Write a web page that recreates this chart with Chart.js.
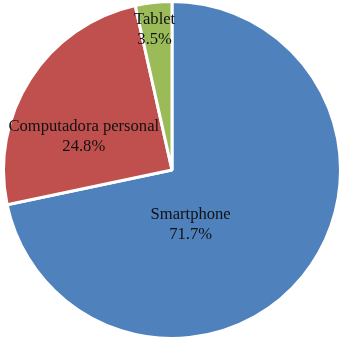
<!DOCTYPE html>
<html lang="es">
  <head>
    <meta charset="UTF-8" />
    <title>Dispositivos</title>
    <script src="https://cdn.jsdelivr.net/npm/chart.js"></script>
    <style>
      body {
        margin: 0;
        background: #fff;
      }
      #wrap {
        width: 343px;
        height: 340px;
      }
    </style>
  </head>
  <body>
    <div id="wrap"><canvas id="pieChart" width="343" height="340"></canvas></div>

    <script>
      const labels = ["Smartphone", "Computadora personal", "Tablet"];
      const values = [71.7, 24.8, 3.5];
      const colors = ["#4f81bd", "#c0504d", "#9bbb59"];

      // where each label sits: fraction along the slice angle, fraction of the radius
      const labelAlong = [0.624, 0.366, 0.44];
      const labelRadius = [0.34, 0.56, 0.84];

      const pieLabels = {
        id: "pieLabels",
        afterDatasetsDraw(chart) {
          const ctx = chart.ctx;
          const meta = chart.getDatasetMeta(0);
          ctx.save();
          ctx.font = '16.6px "Liberation Serif", "Times New Roman", serif';
          ctx.fillStyle = "#111";
          ctx.textAlign = "center";
          ctx.textBaseline = "middle";
          meta.data.forEach((arc, i) => {
            const a = arc.startAngle + (arc.endAngle - arc.startAngle) * labelAlong[i];
            const r = arc.outerRadius * labelRadius[i];
            const x = arc.x + Math.cos(a) * r;
            const y = arc.y + Math.sin(a) * r;
            ctx.fillText(labels[i], x, y - 10);
            ctx.fillText(values[i].toFixed(1) + "%", x, y + 10);
          });
          ctx.restore();
        },
      };

      new Chart(document.getElementById("pieChart"), {
        type: "pie",
        data: {
          labels: labels,
          datasets: [
            {
              data: values,
              backgroundColor: colors,
              borderColor: "#fff",
              borderWidth: 3,
            },
          ],
        },
        options: {
          responsive: false,
          animation: false,
          layout: { padding: { left: 2, right: 1, top: 0, bottom: 0 } },
          plugins: {
            legend: { display: false },
            tooltip: { enabled: false },
          },
        },
        plugins: [pieLabels],
      });
    </script>
  </body>
</html>
